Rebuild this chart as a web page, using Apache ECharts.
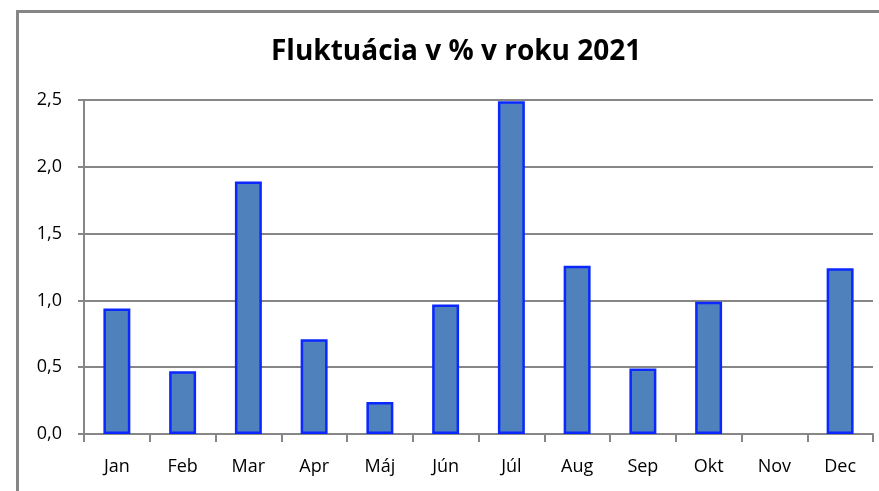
<!DOCTYPE html>
<html>
<head>
<meta charset="utf-8">
<script src="https://cdn.jsdelivr.net/npm/echarts@6/dist/echarts.min.js"></script>
<style>html,body{margin:0;padding:0;background:#fff}#c{width:879px;height:491px}</style>
</head>
<body>
<div id="c"></div>
<script>
const categories = ['Jan','Feb','Mar','Apr','Máj','Jún','Júl','Aug','Sep','Okt','Nov','Dec'];
const values = [0.94, 0.47, 1.89, 0.71, 0.24, 0.97, 2.49, 1.26, 0.49, 0.99, null, 1.24];
const yTicks = [0, 0.5, 1.0, 1.5, 2.0, 2.5];
const titleText = 'Fluktuácia v % v roku 2021';

const chart = echarts.init(document.getElementById('c'));
chart.setOption({
  animation: false,
  backgroundColor: '#fff',
  title: {
    text: titleText, left: 266, top: 33,
    textStyle: { fontFamily: 'Open Sans', fontWeight: 'bold', fontSize: 28, color: '#000' }
  },
  graphic: [{
    type: 'rect', left: 15, top: 9, silent: true,
    shape: { width: 900, height: 520 },
    style: { fill: 'none', stroke: '#868686', lineWidth: 3 }
  }],
  grid: { left: 84, right: 6, top: 100, bottom: 57, containLabel: false },
  xAxis: {
    type: 'category', data: categories,
    axisLine: { lineStyle: { color: '#868686', width: 2 } },
    axisTick: { show: true, length: 8, lineStyle: { color: '#868686', width: 2 } },
    axisLabel: { margin: 24, fontFamily: 'Open Sans', fontSize: 18, color: '#000' }
  },
  yAxis: {
    type: 'value', min: yTicks[0], max: yTicks[yTicks.length - 1], interval: 0.5,
    axisLine: { show: true, lineStyle: { color: '#868686', width: 2 } },
    axisTick: { show: true, length: 6, lineStyle: { color: '#868686', width: 2 } },
    splitLine: { lineStyle: { color: '#868686', width: 2 } },
    axisLabel: {
      margin: 22, fontFamily: 'Open Sans', fontSize: 18, color: '#000',
      formatter: v => v.toFixed(1).replace('.', ',')
    }
  },
  series: [{
    type: 'bar', data: values, barWidth: '41%',
    itemStyle: { color: '#4f81bd', borderColor: '#0a28ff', borderWidth: 2.5 }
  }]
});
</script>
</body>
</html>
